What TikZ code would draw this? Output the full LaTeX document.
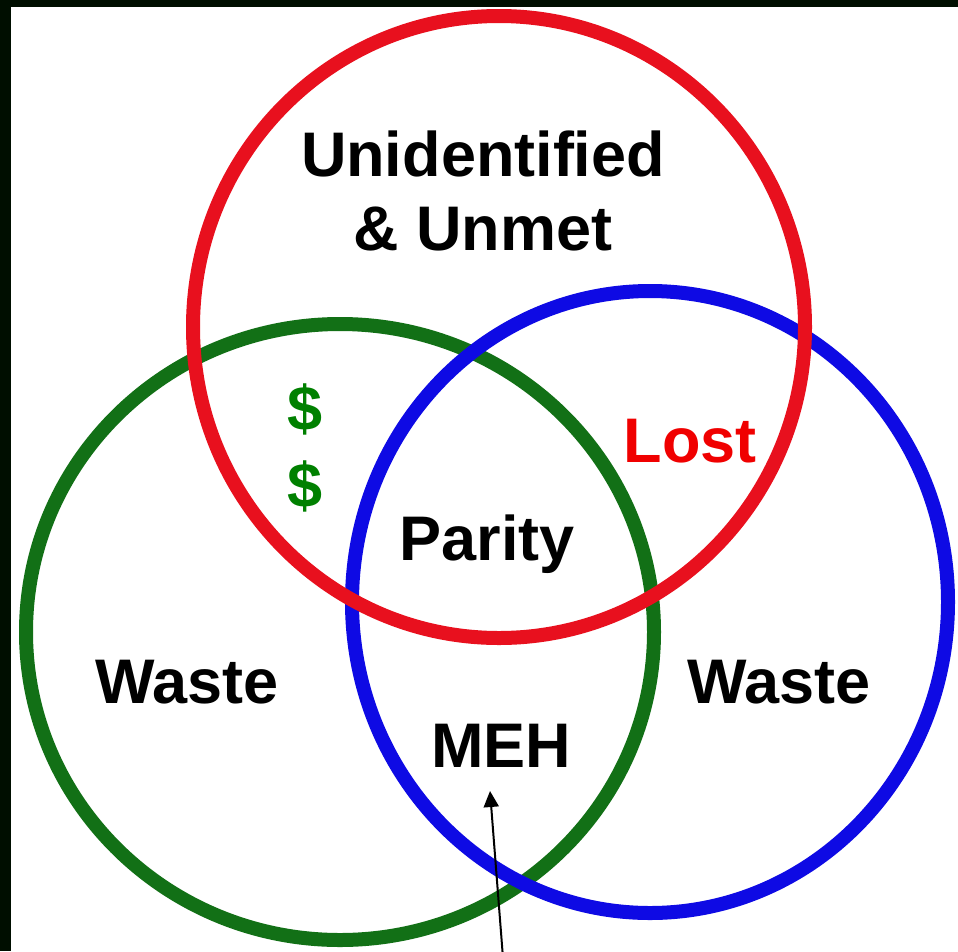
\documentclass[tikz,border=0pt]{standalone}
\usepackage{fontspec}
\setmainfont{Liberation Sans}
\usetikzlibrary{arrows.meta}
\definecolor{frameblack}{RGB}{0,14,0}
\definecolor{ringred}{RGB}{232,16,30}
\definecolor{ringgreen}{RGB}{18,112,22}
\definecolor{ringblue}{RGB}{14,10,228}
\definecolor{txtred}{RGB}{240,0,0}
\definecolor{txtgreen}{RGB}{0,128,0}
\tikzset{
  ring/.style={line width=14pt},
  lbl/.style={font=\fontsize{63}{70}\selectfont\bfseries, anchor=base, inner sep=0pt},
  pointer/.style={line width=2pt, -{Triangle[length=16pt,width=15pt]}}
}
\begin{document}
\begin{tikzpicture}[x=1pt,y=-1pt]
\useasboundingbox (0,0) rectangle (958,951);
\fill[white] (0,0) rectangle (958,951);
% rings
\draw[ring, ringgreen] (340,632) ellipse [x radius=314, y radius=308];
\draw[ring, ringblue] (650,602) ellipse [x radius=298, y radius=311];
\draw[ring, ringred] (499,327) ellipse [x radius=306, y radius=311];
% frame
\fill[frameblack] (0,0) rectangle (958,7);
\fill[frameblack] (0,0) rectangle (11,951);
% labels
\node[lbl] (unid) at (483,176) {Unidentified};
\node[lbl] (unmet) at (483,250) {\& Unmet};
\node[lbl, text=txtred] (lost) at (690,462) {Lost};
\node[lbl, text=txtgreen] (dollarA) at (305,430) {\$};
\node[lbl, text=txtgreen] (dollarB) at (305,507) {\$};
\node[lbl] (parity) at (487,560) {Parity};
\node[lbl] (wasteL) at (187,703) {Waste};
\node[lbl] (wasteR) at (779,703) {Waste};
\node[lbl] (meh) at (501,767) {MEH};
% pointer
\coordinate (tail) at (503,958);
\coordinate (tip) at (490,791);
\draw[pointer] (tail) -- (tip);
\end{tikzpicture}
\end{document}
